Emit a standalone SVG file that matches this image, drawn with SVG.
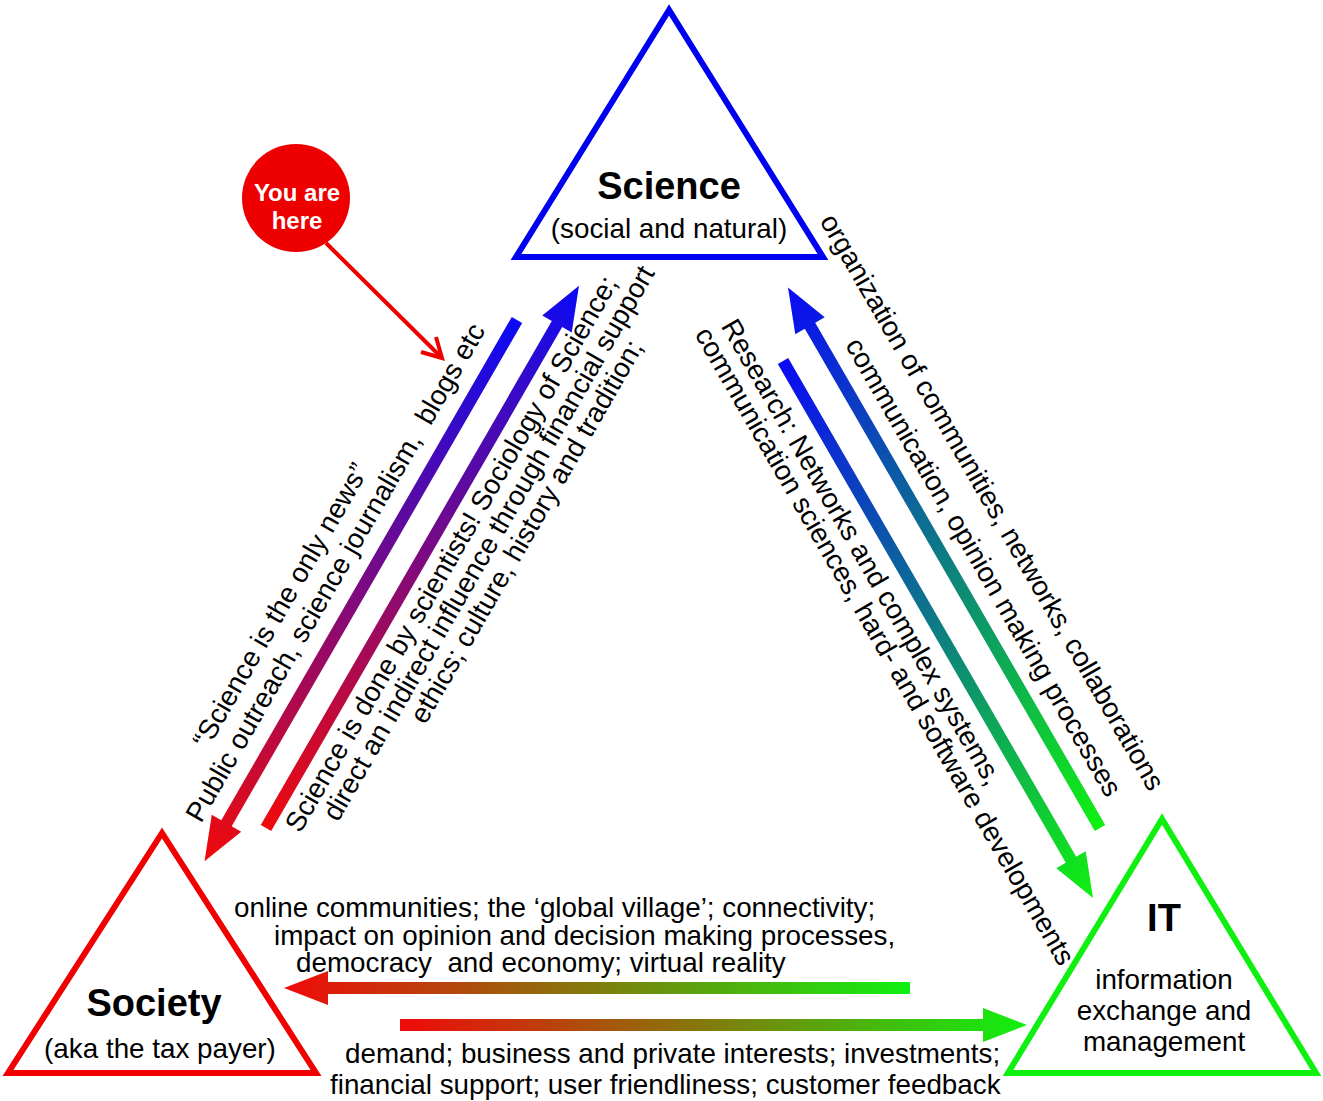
<svg xmlns="http://www.w3.org/2000/svg" width="1323" height="1101" viewBox="0 0 1323 1101">
<style>
  .t { font-family: "Liberation Sans", Arial, sans-serif; font-size: 27.8px; fill: #000; white-space: pre; }
  .m { text-anchor: middle; }
  .title { font-family: "Liberation Sans", Arial, sans-serif; font-size: 38px; font-weight: bold; fill: #000; text-anchor: middle; }
  .here { font-family: "Liberation Sans", Arial, sans-serif; font-size: 24px; font-weight: bold; fill: #fff; text-anchor: middle; }
  .tri { fill: none; stroke-width: 6; stroke-linejoin: miter; }
</style>
<defs>
  <linearGradient id="bToR" x1="0" y1="0" x2="1" y2="0"><stop offset="0" stop-color="#0a0af5"/><stop offset="1" stop-color="#f00a0a"/></linearGradient>
  <linearGradient id="rToB" x1="0" y1="0" x2="1" y2="0"><stop offset="0" stop-color="#f00a0a"/><stop offset="1" stop-color="#0a0af5"/></linearGradient>
  <linearGradient id="bToG" x1="0" y1="0" x2="1" y2="0"><stop offset="0" stop-color="#0a0af5"/><stop offset="1" stop-color="#10f010"/></linearGradient>
  <linearGradient id="gToB" x1="0" y1="0" x2="1" y2="0"><stop offset="0" stop-color="#10f010"/><stop offset="1" stop-color="#0a0af5"/></linearGradient>
  <linearGradient id="gToR" x1="0" y1="0" x2="1" y2="0"><stop offset="0" stop-color="#10f010"/><stop offset="1" stop-color="#f00a0a"/></linearGradient>
  <linearGradient id="rToG" x1="0" y1="0" x2="1" y2="0"><stop offset="0" stop-color="#f00a0a"/><stop offset="1" stop-color="#10f010"/></linearGradient>
</defs>
<rect x="0" y="0" width="1323" height="1101" fill="#fff"/>

<g id="connectors">
  <g id="science-to-society" transform="translate(517,320) rotate(120)">
    <polygon points="0,-6 581,-6 581,-17 625,0 581,17 581,6 0,6" fill="url(#bToR)"/>
  </g>
  <g id="society-to-science" transform="translate(266,828) rotate(-60)">
    <polygon points="0,-6 582,-6 582,-17 626,0 582,17 582,6 0,6" fill="url(#rToB)"/>
  </g>
  <g id="science-to-it" transform="translate(783,361) rotate(60)">
    <polygon points="0,-6 576,-6 576,-17 620,0 576,17 576,6 0,6" fill="url(#bToG)"/>
  </g>
  <g id="it-to-science" transform="translate(1100,828) rotate(-120)">
    <polygon points="0,-6 580,-6 580,-17 624,0 580,17 580,6 0,6" fill="url(#gToB)"/>
  </g>
  <g id="it-to-society" transform="translate(910,988) rotate(180)">
    <polygon points="0,-6 582,-6 582,-17 626,0 582,17 582,6 0,6" fill="url(#gToR)"/>
  </g>
  <g id="society-to-it" transform="translate(400,1025)">
    <polygon points="0,-6 583,-6 583,-17 627,0 583,17 583,6 0,6" fill="url(#rToG)"/>
  </g>
  <g id="pointer" fill="none" stroke="#ee0000" stroke-width="4">
    <path d="M326,243 L441,357"/>
    <path d="M436,337 L442,358 L421,352" stroke-linecap="butt" stroke-linejoin="miter"/>
  </g>
</g>

<g id="labels">
  <g transform="rotate(-60)">
    <text class="t m" x="-384" y="555">“Science is the only news”</text>
    <text class="t m" x="-328" y="586">Public outreach, science journalism,  blogs etc</text>
    <text class="t m" x="-254" y="677">Science is done by scientists! Sociology of Science;</text>
    <text class="t m" x="-226" y="704">direct an indirect influence through financial support</text>
    <text class="t m" x="-197" y="731">ethics; culture, history and tradition;</text>
  </g>
  <g transform="rotate(60)">
    <text class="t m" x="931" y="-599">organization of communities, networks, collaborations</text>
    <text class="t m" x="983" y="-559">communication, opinion making processes</text>
    <text class="t m" x="909" y="-461">Research: Networks and complex systems,</text>
    <text class="t m" x="1002" y="-434">communication sciences, hard- and software developments</text>
  </g>
  <text class="t" x="234" y="917">online communities; the ‘global village’; connectivity;</text>
  <text class="t" x="274" y="945">impact on opinion and decision making processes,</text>
  <text class="t" x="296" y="972">democracy  and economy; virtual reality</text>
  <text class="t" x="345" y="1063">demand; business and private interests; investments;</text>
  <text class="t" x="330" y="1094">financial support; user friendliness; customer feedback</text>
</g>

<g id="science">
  <polygon class="tri" stroke="#0000f0" points="669,10 516,257 823,257"/>
  <text class="title" x="669" y="199">Science</text>
  <text class="t m" x="669" y="238">(social and natural)</text>
</g>

<g id="society">
  <polygon class="tri" stroke="#f00000" points="162,833 8,1073 316,1073"/>
  <text class="title" x="154" y="1016">Society</text>
  <text class="t m" x="160" y="1058">(aka the tax payer)</text>
</g>

<g id="it">
  <polygon class="tri" stroke="#10f010" points="1162,819 1008,1073 1316,1073"/>
  <text class="title" x="1164" y="931">IT</text>
  <text class="t m" x="1164" y="989">information</text>
  <text class="t m" x="1164" y="1020">exchange and</text>
  <text class="t m" x="1164" y="1051">management</text>
</g>

<g id="you-are-here">
  <circle cx="296" cy="198" r="54" fill="#ee0000"/>
  <text class="here" x="297" y="201">You are</text>
  <text class="here" x="297" y="229">here</text>
</g>
</svg>
